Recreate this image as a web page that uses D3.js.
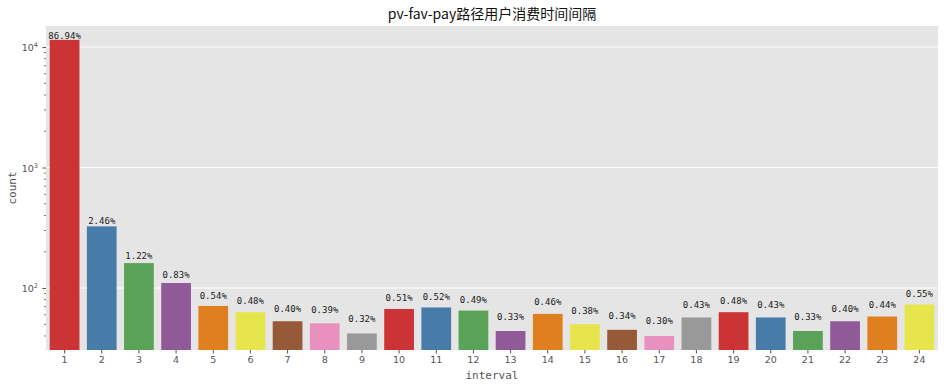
<!DOCTYPE html>
<html>
<head>
<meta charset="utf-8">
<script src="https://cdn.jsdelivr.net/npm/d3@7"></script>
<style>
  body { margin: 0; background: #fff; }
  svg { display: block; }
</style>
</head>
<body>
<svg width="944" height="388"></svg>
<script>
// data
const intervals = d3.range(1, 25).map(String);
const counts = [11463, 325, 161, 110, 71, 63, 53, 51, 42, 67, 69, 65,
                44, 61, 50, 45, 40, 57, 63, 57, 44, 53, 58, 73];
const yTicks = [100, 1000, 10000];
const palette = ["#e41a1c", "#377eb8", "#4daf4a", "#984ea3", "#ff7f00",
                 "#ffff33", "#a65628", "#f781bf", "#999999"];

const total = d3.sum(counts);
const svg = d3.select("svg");
const m = { left: 46, right: 6, top: 26, bottom: 38 };
const W = 944, H = 388;

// seaborn desaturates the palette to 0.75
const colors = palette.map(c => { const h = d3.hsl(c); h.s *= 0.75; return h.formatHex(); });

const x = d3.scaleBand().domain(intervals)
   .range([m.left, W - m.right]).paddingInner(0.2).paddingOuter(0.1);
const y = d3.scaleLog().domain([30.6, 14940]).range([H - m.bottom, m.top]);

// background
svg.append("rect")
   .attr("x", m.left).attr("y", m.top)
   .attr("width", W - m.left - m.right).attr("height", H - m.top - m.bottom)
   .attr("fill", "#e5e5e5");

// grid lines
svg.append("g").selectAll("line").data(yTicks).join("line")
   .attr("x1", m.left).attr("x2", W - m.right)
   .attr("y1", d => y(d)).attr("y2", d => y(d))
   .attr("stroke", "#fff").attr("stroke-width", 1);

// bars
svg.append("g").selectAll("rect").data(counts).join("rect")
   .attr("x", (d, i) => x(intervals[i]))
   .attr("y", d => y(d))
   .attr("width", x.bandwidth())
   .attr("height", d => y.range()[0] - y(d))
   .attr("fill", (d, i) => colors[i % colors.length]);

// percent labels (placed at count + 10, like the annotate call)
svg.append("g").selectAll("text").data(counts).join("text")
   .attr("x", (d, i) => x(intervals[i]) + x.bandwidth() / 2)
   .attr("y", d => y(d + 10) - 0.5)
   .attr("text-anchor", "middle")
   .attr("font-family", "DejaVu Sans Mono, monospace")
   .attr("font-size", "9px")
   .attr("fill", "#1a1a1a")
   .text(d => (d / total * 100).toFixed(2) + "%");

// x axis
const xAxis = svg.append("g")
   .attr("transform", `translate(0,${H - m.bottom})`)
   .call(d3.axisBottom(x).tickSize(3.5).tickPadding(3));
xAxis.select(".domain").remove();
xAxis.selectAll("line").attr("stroke", "#555");
xAxis.selectAll("text").attr("fill", "#555")
   .attr("font-family", "DejaVu Sans, sans-serif").attr("font-size", "9.5px");

// y axis: major and minor ticks
const minor = [];
for (let e = 1; e <= 4; e++) for (let k = 2; k <= 9; k++) {
  const v = k * Math.pow(10, e);
  if (v >= y.domain()[0] && v <= y.domain()[1]) minor.push(v);
}
svg.append("g").selectAll("line").data(minor).join("line")
   .attr("x1", m.left - 2).attr("x2", m.left)
   .attr("y1", d => y(d)).attr("y2", d => y(d))
   .attr("stroke", "#555").attr("stroke-width", 0.8);

const yAxis = svg.append("g")
   .attr("transform", `translate(${m.left},0)`)
   .call(d3.axisLeft(y).tickValues(yTicks).tickSize(3.5).tickFormat(""));
yAxis.select(".domain").remove();
yAxis.selectAll("line").attr("stroke", "#555");

const yLab = svg.append("g").selectAll("text").data(yTicks).join("text")
   .attr("x", m.left - 8)
   .attr("y", d => y(d) + 4)
   .attr("text-anchor", "end")
   .attr("font-family", "DejaVu Sans, sans-serif")
   .attr("font-size", "9.5px")
   .attr("fill", "#555");
yLab.append("tspan").text("10");
yLab.append("tspan").attr("dy", -4).attr("font-size", "6.5px")
   .text(d => Math.round(Math.log10(d)));

// axis titles
svg.append("text")
   .attr("x", (m.left + W - m.right) / 2).attr("y", 379)
   .attr("text-anchor", "middle")
   .attr("font-family", "DejaVu Sans Mono, monospace")
   .attr("font-size", "11px").attr("fill", "#555")
   .text("interval");

svg.append("text")
   .attr("transform", `translate(16,${(m.top + H - m.bottom) / 2}) rotate(-90)`)
   .attr("text-anchor", "middle")
   .attr("font-family", "DejaVu Sans Mono, monospace")
   .attr("font-size", "11px").attr("fill", "#555")
   .text("count");

// title
svg.append("text")
   .attr("x", (m.left + W - m.right) / 2).attr("y", 19)
   .attr("text-anchor", "middle")
   .attr("font-family", "Noto Sans CJK SC, sans-serif")
   .attr("font-size", "14px").attr("fill", "#111")
   .text("pv-fav-pay路径用户消费时间间隔");
</script>
</body>
</html>
